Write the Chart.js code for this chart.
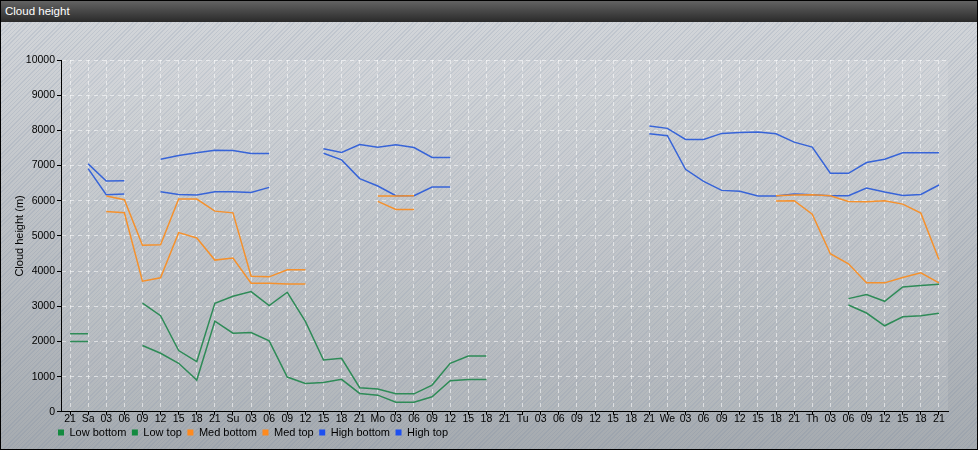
<!DOCTYPE html>
<html>
<head>
<meta charset="utf-8">
<script src="https://cdn.jsdelivr.net/npm/chart.js@4.4.0/dist/chart.umd.min.js"></script>
<style>
  html, body { margin: 0; padding: 0; }
  body { width: 978px; height: 450px; overflow: hidden; }
  #frame {
    position: relative;
    width: 976px;
    height: 448px;
    border: 1px solid #000;
    background:
      repeating-linear-gradient(135deg, rgba(105, 125, 155, 0.16) 0 1px, rgba(255, 255, 255, 0) 1px 3px),
      linear-gradient(#d4d7db, #a6abb0);
  }
  #titlebar {
    position: absolute;
    left: 0;
    top: 0;
    width: 976px;
    height: 21px;
    box-sizing: border-box;
    padding-left: 4px;
    background: linear-gradient(#636363, #2a2a2a);
    color: #fff;
    font: 11.5px "Liberation Sans", Arial, sans-serif;
    line-height: 21px;
  }
  #wrap { position: absolute; left: -1px; top: -1px; width: 978px; height: 450px; }
</style>
</head>
<body>
<div id="frame">
  <div id="wrap"><canvas id="cloudChart" width="978" height="450"></canvas></div>
  <div id="titlebar">Cloud height</div>
</div>
<script>
// 3-hourly steps from Friday 21h to Thursday 21h
const LABELS = [
  "21", "Sa", "03", "06", "09", "12", "15", "18",
  "21", "Su", "03", "06", "09", "12", "15", "18",
  "21", "Mo", "03", "06", "09", "12", "15", "18",
  "21", "Tu", "03", "06", "09", "12", "15", "18",
  "21", "We", "03", "06", "09", "12", "15", "18",
  "21", "Th", "03", "06", "09", "12", "15", "18",
  "21",
];

const _ = null;

const LOW_BOTTOM = [
  2000, 2000, _, _, 1886, 1667, 1381, 905,
  2581, 2238, 2257, 2019, 990, 810, 838, 924,
  524, 476, 276, 276, 429, 886, 924, 924,
  _, _, _, _, _, _, _, _,
  _, _, _, _, _, _, _, _,
  _, _, _, 3038, 2810, 2448, 2705, 2733,
  2800,
];

const LOW_TOP = [
  2220, 2220, _, _, 3094, 2734, 1743, 1429,
  3086, 3286, 3419, 3019, 3400, 2571, 1476, 1524,
  686, 648, 514, 514, 762, 1381, 1590, 1590,
  _, _, _, _, _, _, _, _,
  _, _, _, _, _, _, _, _,
  _, _, _, 3219, 3333, 3143, 3552, 3590,
  3629,
];

const MED_BOTTOM = [
  _, _, 5695, 5657, 3714, 3810, 5095, 4943,
  4314, 4371, 3657, 3657, 3638, 3638, _, _,
  _, 5981, 5752, 5752, _, _, _, _,
  _, _, _, _, _, _, _, _,
  _, _, _, _, _, _, _, 5990,
  6000, 5619, 4495, 4210, 3667, 3667, 3819, 3952,
  3667,
];

const MED_TOP = [
  _, _, 6133, 6029, 4733, 4752, 6048, 6048,
  5705, 5657, 3857, 3838, 4038, 4038, _, _,
  _, 6133, 6133, 6143, _, _, _, _,
  _, _, _, _, _, _, _, _,
  _, _, _, _, _, _, _, 6143,
  6162, 6171, 6143, 5981, 5971, 6000, 5905, 5648,
  4333,
];

const HIGH_BOTTOM = [
  _, 6914, 6171, 6190, _, 6257, 6181, 6162,
  6257, 6257, 6238, 6381, _, _, 7352, 7162,
  6629, 6419, 6143, 6143, 6390, 6390, _, _,
  _, _, _, _, _, _, _, _,
  7905, 7848, 6895, 6552, 6295, 6267, 6133, 6133,
  6190, 6171, 6143, 6143, 6362, 6248, 6152, 6181,
  6448,
];

const HIGH_TOP = [
  _, 7048, 6562, 6571, _, 7181, 7286, 7362,
  7438, 7429, 7343, 7343, _, _, 7476, 7371,
  7600, 7524, 7590, 7514, 7229, 7229, _, _,
  _, _, _, _, _, _, _, _,
  8124, 8057, 7743, 7743, 7914, 7943, 7952, 7905,
  7667, 7524, 6781, 6781, 7086, 7181, 7362, 7362,
  7362,
];

const FONT = "'Liberation Sans', Arial, sans-serif";

function series(label, data, line, box) {
  return {
    label: label,
    data: data,
    borderColor: line,
    backgroundColor: box,
    borderWidth: 1.5,
    pointRadius: 0,
    pointHoverRadius: 0,
    tension: 0,
    spanGaps: false,
  };
}

// lighter panel behind the plot
const plotPanel = {
  id: "plotPanel",
  beforeDraw(chart) {
    const a = chart.chartArea;
    const ctx = chart.ctx;
    ctx.save();
    ctx.fillStyle = "rgba(255,255,255,0.10)";
    ctx.fillRect(a.left, a.top, a.right - a.left, a.bottom - a.top);
    ctx.restore();
  },
};

// legend starts under the y axis, not at the canvas edge
const legendShift = {
  id: "legendShift",
  afterLayout(chart) {
    const lg = chart.legend;
    lg.left += 52.5;
    lg.right += 52.5;
    lg.top -= 2;
    lg.bottom -= 2;
  },
};

new Chart(document.getElementById("cloudChart"), {
  type: "line",
  data: {
    labels: LABELS,
    datasets: [
      series("Low bottom", LOW_BOTTOM, "#2e8b57", "#138a3f"),
      series("Low top", LOW_TOP, "#2e8b57", "#138a3f"),
      series("Med bottom", MED_BOTTOM, "#f5912d", "#ff8a1e"),
      series("Med top", MED_TOP, "#f5912d", "#ff8a1e"),
      series("High bottom", HIGH_BOTTOM, "#3764d8", "#1e50f0"),
      series("High top", HIGH_TOP, "#3764d8", "#1e50f0"),
    ],
  },
  options: {
    responsive: false,
    devicePixelRatio: 1,
    animation: false,
    layout: { padding: { left: 0, top: 60, right: 30, bottom: 0 } },
    plugins: {
      tooltip: { enabled: false },
      legend: {
        position: "bottom",
        align: "start",
        labels: {
          boxWidth: 6,
          boxHeight: 6,
          padding: 5.5,
          color: "#000",
          font: { family: FONT, size: 11 },
          generateLabels: (chart) =>
            Chart.defaults.plugins.legend.labels
              .generateLabels(chart)
              .map((l) => ({ ...l, lineWidth: 0 })),
        },
      },
    },
    scales: {
      x: {
        offset: true,
        grid: {
          offset: false,
          color: "rgba(255,255,255,0.55)",
          tickColor: "#000",
          tickLength: 3,
          tickBorderDash: [],
        },
        border: { color: "#000", dash: [4, 3] },
        ticks: {
          color: "#000",
          font: { family: FONT, size: 10.5 },
          padding: -2,
          maxRotation: 0,
          autoSkip: false,
        },
      },
      y: {
        min: 0,
        max: 10000,
        afterFit: (scale) => {
          scale.width = 61;
        },
        grid: {
          color: "rgba(255,255,255,0.55)",
          tickColor: "#000",
          tickLength: 4,
          tickBorderDash: [],
        },
        border: { color: "#000", dash: [4, 4] },
        ticks: {
          stepSize: 1000,
          color: "#000",
          padding: 2,
          font: { family: FONT, size: 10.5 },
          callback: (v) => String(v),
        },
        title: {
          display: true,
          text: "Cloud height (m)",
          color: "#000",
          font: { family: FONT, size: 11 },
          padding: { top: 13, bottom: 0 },
        },
      },
    },
  },
  plugins: [plotPanel, legendShift],
});
</script>
</body>
</html>
